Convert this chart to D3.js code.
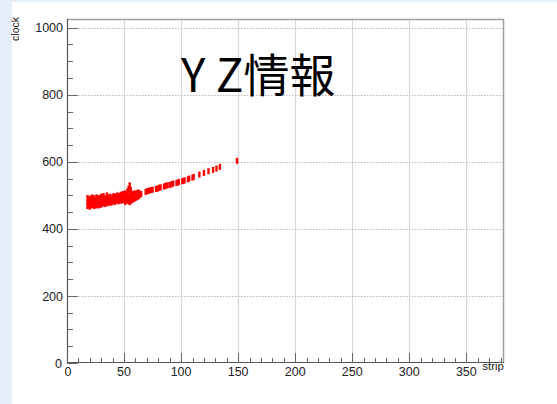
<!DOCTYPE html>
<html><head><meta charset="utf-8">
<script src="https://cdn.jsdelivr.net/npm/d3@7"></script>
<style>
html,body{margin:0;padding:0;background:#fff;}
svg{display:block;}
</style></head>
<body>
<svg id="c" width="557" height="404"></svg>
<script>
// ---- data ----
const titleText = "Y Z情報";
const xLabel = "strip";
const yLabel = "clock";
const xTicks = [0, 50, 100, 150, 200, 250, 300, 350];
const yTicks = [0, 200, 400, 600, 800, 1000];
const xDomain = [0, 383];
const yDomain = [0, 1026];
// hit points: strip and clock
const strip = [
 18,18,18,19,19,20,20,20,21,21,22,22,22,23,23,24,24,24,25,25,26,26,26,27,27,28,28,28,29,29,30,30,30,
 31,31,32,32,32,33,33,34,34,35,35,35,36,36,37,37,38,38,39,39,40,40,41,41,42,42,43,43,44,44,45,45,
 46,46,47,47,48,48,49,49,50,50,51,51,51,52,52,53,53,53,54,54,54,55,55,55,55,56,56,56,57,57,58,58,59,59,60,60,61,61,62,62,63,63,64,65,
 69,70,71,72,73,74,75,
 78,79,80,81,82,
 85,86,87,88,
 90,91,92,93,
 96,97,98,
 101,102,103,
 106,107,
 110,111,
 116,120,124,128,131,134,149
];
const clock = [
 468,480,492,472,485,466,478,490,474,488,470,482,494,476,486,468,480,492,472,484,470,482,494,476,488,470,480,492,474,486,472,484,496,
 476,490,478,488,498,474,486,480,492,476,488,500,480,494,478,490,482,496,478,488,482,494,484,498,480,490,484,496,486,500,482,494,
 484,498,488,502,484,496,488,504,486,498,480,492,506,486,500,484,498,512,482,496,520,480,494,512,530,484,498,516,486,502,488,504,490,506,492,504,494,506,496,508,498,508,502,504,
 510,512,513,514,515,516,517,
 519,520,521,523,524,
 526,528,529,530,
 531,532,534,535,
 537,538,540,
 542,543,545,
 548,550,
 553,555,
 562,567,572,576,580,585,603
];

// ---- layout ----
const svg = d3.select("#c");
const L = 67, R = 504, T = 19, B = 363;

// background band
svg.append("rect").attr("x",0).attr("y",0).attr("width",557).attr("height",404).attr("fill","#ffffff");
svg.append("rect").attr("x",0).attr("y",0).attr("width",12).attr("height",404).attr("fill","#e4edf8");
svg.append("rect").attr("x",0).attr("y",0).attr("width",557).attr("height",2).attr("fill","#e4edf8");

const x = d3.scaleLinear().domain(xDomain).range([L, R]);
const y = d3.scaleLinear().domain(yDomain).range([B, T]);

// grid
const g = svg.append("g");
g.selectAll("line.vg").data(xTicks.filter(d=>d>0)).join("line")
  .attr("x1",d=>Math.round(x(d))+0.5).attr("x2",d=>Math.round(x(d))+0.5)
  .attr("y1",T).attr("y2",B).attr("stroke","#d8d8d8").attr("stroke-width",1.2);
g.selectAll("line.hg").data(yTicks.filter(d=>d>0)).join("line")
  .attr("x1",L).attr("x2",R)
  .attr("y1",d=>Math.round(y(d))+0.5).attr("y2",d=>Math.round(y(d))+0.5)
  .attr("stroke","#b8b8b8").attr("stroke-width",1).attr("stroke-dasharray","1.5,1.5");

// frame top/right
svg.append("path").attr("d",`M${L},${T+0.5}H${R-0.5}V${B}`).attr("fill","none")
  .attr("stroke","#a0a0a0").attr("stroke-width",1.5);

// points
svg.append("g").selectAll("rect").data(strip.map((s,i)=>[s,clock[i]])).join("rect")
  .attr("x",d=>x(d[0])-1.2).attr("y",d=>y(d[1])-3)
  .attr("width",2.4).attr("height",6).attr("fill","#ff0000");

// y axis
const ya = svg.append("g").attr("transform",`translate(${L},0)`);
ya.append("line").attr("x1",0.5).attr("x2",0.5).attr("y1",T).attr("y2",B).attr("stroke","#555").attr("stroke-width",1.2);
ya.selectAll("line.t").data(d3.range(0,1001,50)).join("line")
  .attr("x1",0).attr("x2",d=>d%200===0?11:6)
  .attr("y1",d=>Math.round(y(d))+0.5).attr("y2",d=>Math.round(y(d))+0.5)
  .attr("stroke","#666").attr("stroke-width",1);
ya.selectAll("text").data(yTicks).join("text")
  .attr("x",d=>d===0?-5:-4).attr("y",d=>y(d)+4.6)
  .attr("text-anchor","end").attr("font-family","Liberation Sans, Arial, sans-serif")
  .attr("font-size",12.5).attr("fill","#222").text(d=>d);

// x axis
const xa = svg.append("g");
xa.append("line").attr("x1",L).attr("x2",R).attr("y1",B-0.5).attr("y2",B-0.5).attr("stroke","#555").attr("stroke-width",1.2);
xa.selectAll("line.t").data(d3.range(0,381,10)).join("line")
  .attr("x1",d=>Math.round(x(d))+0.5).attr("x2",d=>Math.round(x(d))+0.5)
  .attr("y1",B).attr("y2",d=>d%50===0?B-10:B-5)
  .attr("stroke","#666").attr("stroke-width",1);
xa.selectAll("text").data(xTicks).join("text")
  .attr("x",d=>x(d)+(d===0?1:0)).attr("y",375.5)
  .attr("text-anchor","middle").attr("font-family","Liberation Sans, Arial, sans-serif")
  .attr("font-size",12.5).attr("fill","#222").text(d=>d);

// axis titles
svg.append("text").attr("x",R).attr("y",370).attr("text-anchor","end")
  .attr("font-family","Liberation Sans, Arial, sans-serif").attr("font-size",11.5).attr("fill","#222").text(xLabel);
svg.append("text").attr("transform","translate(18.5,17) rotate(-90)").attr("text-anchor","end")
  .attr("font-family","Liberation Sans, Arial, sans-serif").attr("font-size",10.5).attr("fill","#222").text(yLabel);

// title
svg.append("text").attr("x",181).attr("y",92).attr("font-family","Noto Sans CJK JP")
  .attr("font-size",46).attr("fill","#000").text(titleText);
</script>
</body></html>
